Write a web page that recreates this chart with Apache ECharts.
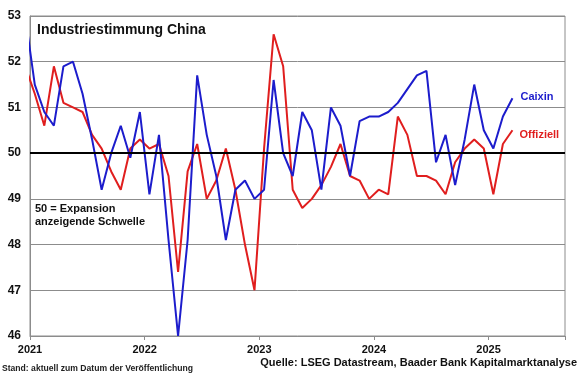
<!DOCTYPE html>
<html>
<head>
<meta charset="utf-8">
<script src="https://cdn.jsdelivr.net/npm/echarts@6/dist/echarts.min.js"></script>
<style>
html,body{margin:0;padding:0;background:#fff;}
#chart{width:580px;height:376px;}
</style>
</head>
<body>
<div id="chart"></div>
<script>
// Monate ab Dez 2020 bis Maerz 2025
var yearLabels  = ['2021','2022','2023','2024','2025'];
var caixin      = [53.0,
    51.5,50.9,50.6,51.9,52.0,51.3,50.3,49.2,50.0,50.6,49.9,50.9,
    49.1,50.4,48.1,46.0,48.1,51.7,50.4,49.5,48.1,49.2,49.4,49.0,
    49.2,51.6,50.0,49.5,50.9,50.5,49.2,51.0,50.6,49.5,50.7,50.8,
    50.8,50.9,51.1,51.4,51.7,51.8,49.8,50.4,49.3,50.3,51.5,50.5,
    50.1,50.8,51.2];
var offiziell   = [51.9,
    51.3,50.6,51.9,51.1,51.0,50.9,50.4,50.1,49.6,49.2,50.1,50.3,
    50.1,50.2,49.5,47.4,49.6,50.2,49.0,49.4,50.1,49.2,48.0,47.0,
    50.1,52.6,51.9,49.2,48.8,49.0,49.3,49.7,50.2,49.5,49.4,49.0,
    49.2,49.1,50.8,50.4,49.5,49.5,49.4,49.1,49.8,50.1,50.3,50.1,
    49.1,50.2,50.5];

function toPoints(arr){
    var pts = [];
    for(var i=0;i<arr.length;i++){
        pts.push([i - 0.5, arr[i]]);   // Monatsmitte, Index 0 = Dez 2020
    }
    return pts;
}

var chart = echarts.init(document.getElementById('chart'));
var font  = 'Arial, "Liberation Sans", sans-serif';
var option = {
    animation:false,
    backgroundColor:'#fff',
    textStyle:{fontFamily:font},
    grid:{left:30,right:15,top:16,bottom:40,show:true,borderColor:'#8c8c8c',borderWidth:1},
    title:{
        text:'Industriestimmung China',
        left:37,top:23,padding:0,
        textStyle:{fontSize:14,fontWeight:'bold',color:'#111',fontFamily:font}
    },
    xAxis:{
        type:'value',min:0,max:56,interval:12,
        axisLine:{lineStyle:{color:'#8c8c8c',width:1}},
        axisTick:{show:true,inside:false,length:4,lineStyle:{color:'#8c8c8c'}},
        splitLine:{show:false},
        axisLabel:{
            color:'#111',fontWeight:'bold',fontSize:11,margin:8,
            formatter:function(v){ return yearLabels[Math.round(v/12)] || ''; }
        }
    },
    yAxis:{
        type:'value',min:46,max:53,interval:1,
        axisLine:{show:true,lineStyle:{color:'#8c8c8c',width:1}},
        axisTick:{show:false},
        splitLine:{lineStyle:{color:'#8c8c8c',width:1}},
        axisLabel:{color:'#111',fontWeight:'bold',fontSize:12,margin:9}
    },
    series:[
        {
            name:'Caixin',type:'line',data:toPoints(caixin),
            showSymbol:false,clip:true,
            lineStyle:{color:'#1c1ccc',width:2},
            itemStyle:{color:'#1c1ccc'},
            endLabel:{show:true,formatter:'Caixin',color:'#1c1ccc',fontWeight:'bold',fontSize:11,distance:8,offset:[0,-1]},
            markLine:{
                silent:true,symbol:'none',label:{show:false},
                lineStyle:{color:'#000',width:2,type:'solid'},
                data:[{yAxis:50}]
            },
            z:3
        },
        {
            name:'Offiziell',type:'line',data:toPoints(offiziell),
            showSymbol:false,clip:true,
            lineStyle:{color:'#e01e1e',width:2},
            itemStyle:{color:'#e01e1e'},
            endLabel:{show:true,formatter:'Offiziell',color:'#e01e1e',fontWeight:'bold',fontSize:11,distance:7,offset:[0,5]},
            z:2
        }
    ],
    graphic:[
        {type:'text',left:35,top:202,style:{text:'50 = Expansion\nanzeigende Schwelle',font:'bold 11px '+font,fill:'#111',lineHeight:13}},
        {type:'text',left:2,top:364,style:{text:'Stand: aktuell zum Datum der Veröffentlichung',font:'bold 8.6px '+font,fill:'#222'}},
        {type:'text',right:3,top:357,style:{text:'Quelle: LSEG Datastream, Baader Bank Kapitalmarktanalyse',font:'bold 11px '+font,fill:'#111'}}
    ]
};
chart.setOption(option);
</script>
</body>
</html>
